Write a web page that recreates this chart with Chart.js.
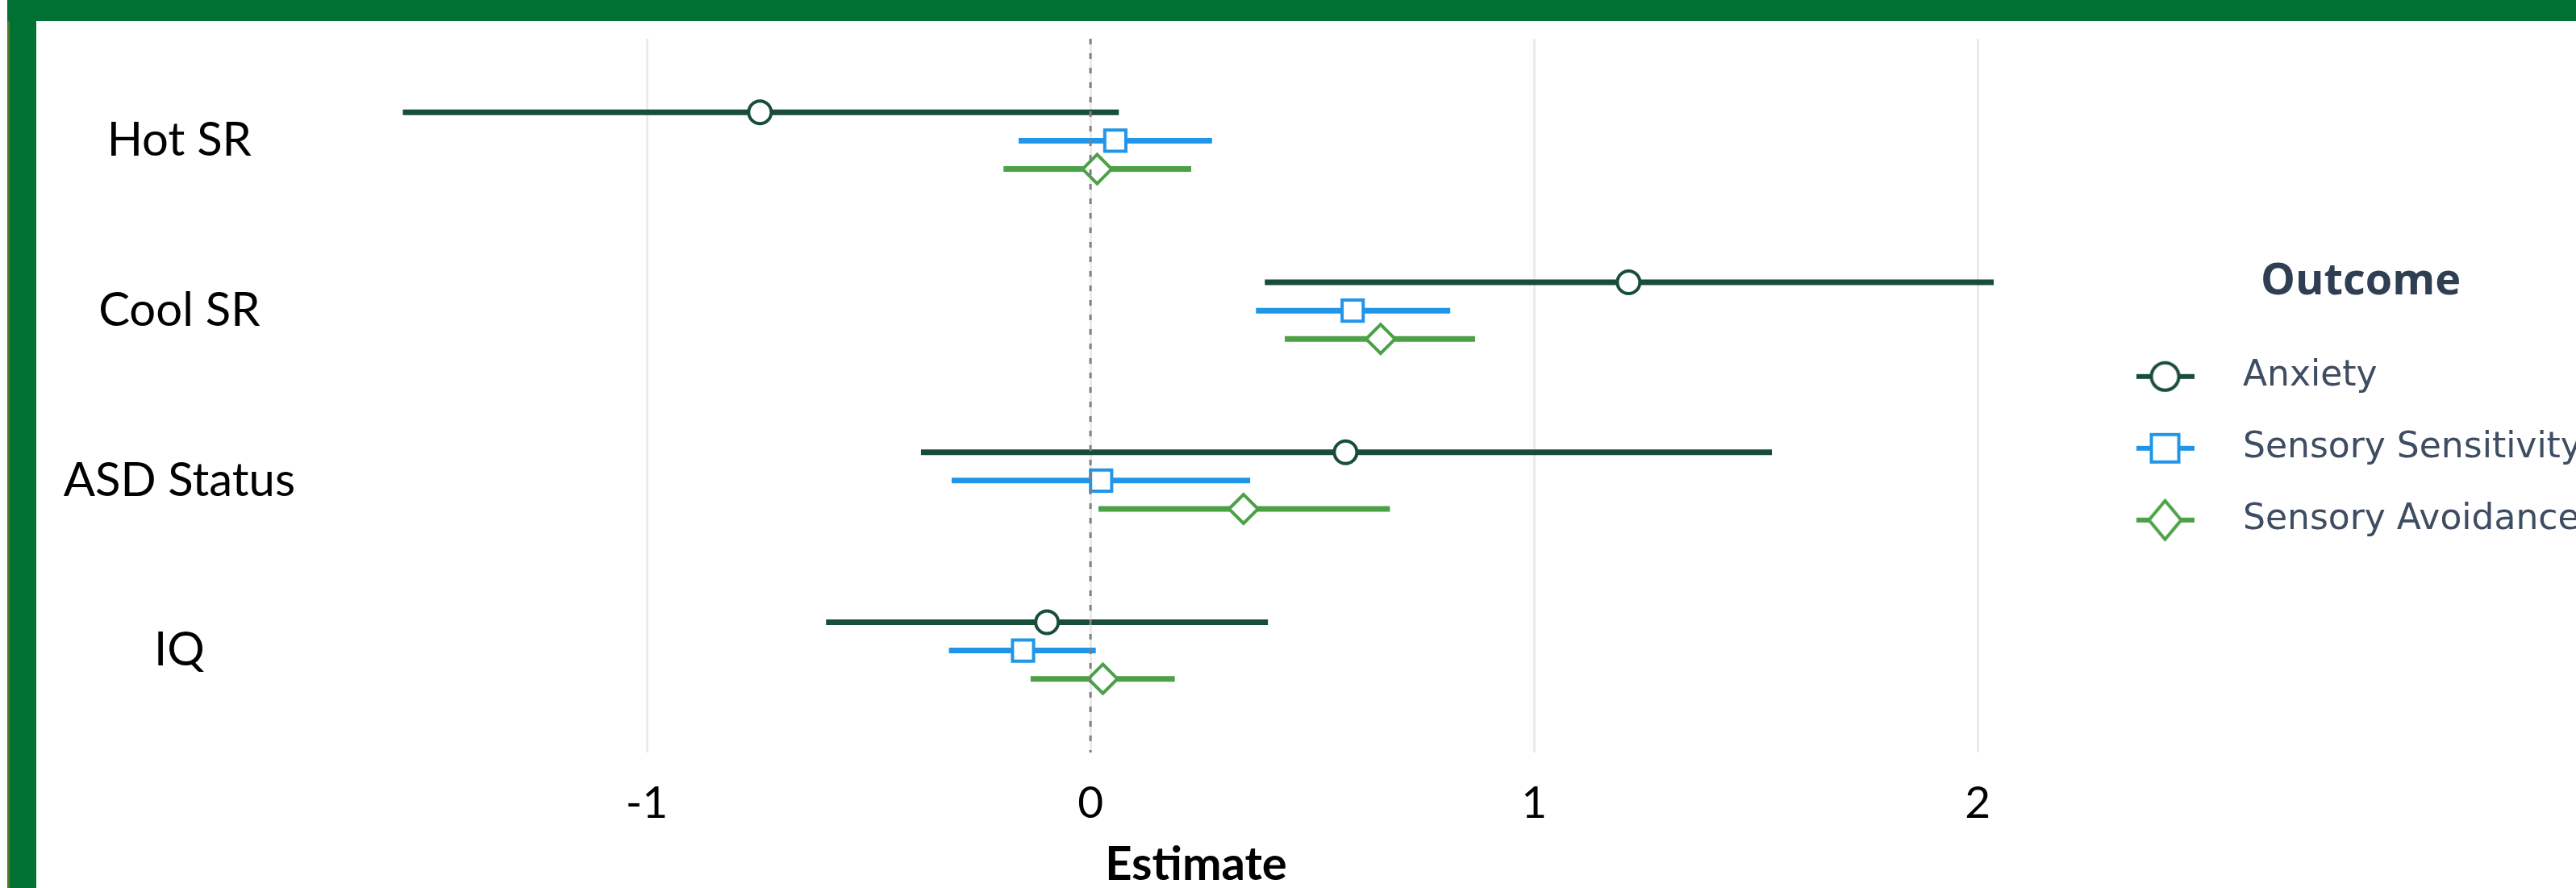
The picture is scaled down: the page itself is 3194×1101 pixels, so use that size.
<!DOCTYPE html>
<html lang="en">
<head>
<meta charset="UTF-8">
<title>Estimates by outcome</title>
<script src="https://cdn.jsdelivr.net/npm/chart.js@4.4.1/dist/chart.umd.min.js"></script>
<style>
    html, body {
        margin: 0;
        padding: 0;
        background: #ffffff;
        width: 3194px;
        height: 1101px;
        overflow: hidden;
    }
    .edge { position: absolute; left: 9px; top: 0; width: 3px; height: 1101px; background: #4f7a2c; }
    .frameLeft { position: absolute; left: 12px; top: 0; width: 33px; height: 1101px; background: #007033; }
    .frameTop { position: absolute; left: 9px; top: 0; right: 0; height: 26px; background: #007033; }
    #chart { position: absolute; left: 45px; top: 26px; }
</style>
</head>
<body>
<div class="edge"></div>
<div class="frameLeft"></div>
<div class="frameTop"></div>
<canvas id="chart" width="3160" height="1075"></canvas>

<script>
    const categories = ['Hot SR', 'Cool SR', 'ASD Status', 'IQ'];
    const outcomes = ['Anxiety', 'Sensory Sensitivity', 'Sensory Avoidance'];

    // estimate and interval ends, one value per category
    const anxietyEst = [-0.745, 1.213, 0.575, -0.098];
    const anxietyLo  = [-1.55, 0.393, -0.382, -0.596];
    const anxietyHi  = [0.064, 2.036, 1.536, 0.400];

    const sensitivityEst = [0.056, 0.591, 0.024, -0.152];
    const sensitivityLo  = [-0.162, 0.373, -0.313, -0.319];
    const sensitivityHi  = [0.274, 0.811, 0.360, 0.012];

    const avoidanceEst = [0.015, 0.654, 0.345, 0.028];
    const avoidanceLo  = [-0.196, 0.438, 0.018, -0.135];
    const avoidanceHi  = [0.227, 0.867, 0.675, 0.190];

    const xTicks = [-1, 0, 1, 2];

    const series = [
        { name: outcomes[0], est: anxietyEst, lo: anxietyLo, hi: anxietyHi,
          color: '#184d3a', style: 'circle', radius: 14, shift: -1 / 6 },
        { name: outcomes[1], est: sensitivityEst, lo: sensitivityLo, hi: sensitivityHi,
          color: '#2196e8', style: 'rect', radius: 18.5, shift: 0 },
        { name: outcomes[2], est: avoidanceEst, lo: avoidanceLo, hi: avoidanceHi,
          color: '#4ca046', style: 'rectRot', radius: 18, shift: 1 / 6 }
    ];

    // lo -> estimate -> hi, then a null to break the line before the next category
    function intervalPoints(s) {
        const pts = [];
        categories.forEach((c, i) => {
            const y = i + s.shift;
            pts.push({ x: s.lo[i], y: y }, { x: s.est[i], y: y }, { x: s.hi[i], y: y }, { x: null, y: null });
        });
        return pts;
    }

    // small icon for the legend: a bit of line with the marker on it
    function legendIcon(s) {
        const c = document.createElement('canvas');
        c.width = 72;
        c.height = 56;
        const g = c.getContext('2d');
        const cx = 36, cy = 28;
        g.strokeStyle = s.color;
        g.lineWidth = 6;
        g.beginPath();
        g.moveTo(0, cy);
        g.lineTo(72, cy);
        g.stroke();
        g.fillStyle = '#ffffff';
        g.lineWidth = 4;
        g.beginPath();
        if (s.style === 'circle') {
            g.arc(cx, cy, 17, 0, Math.PI * 2);
        } else if (s.style === 'rect') {
            g.rect(cx - 17, cy - 17, 34, 34);
        } else {
            g.moveTo(cx, cy - 24);
            g.lineTo(cx + 20, cy);
            g.lineTo(cx, cy + 24);
            g.lineTo(cx - 20, cy);
            g.closePath();
        }
        g.fill();
        g.stroke();
        return c;
    }

    const datasets = series.map(s => ({
        label: s.name,
        data: intervalPoints(s),
        showLine: true,
        spanGaps: false,
        borderColor: s.color,
        borderWidth: 7,
        pointStyle: s.style,
        pointRadius: ctx => (ctx.dataIndex % 4 === 1 ? s.radius : 0),
        pointHoverRadius: ctx => (ctx.dataIndex % 4 === 1 ? s.radius : 0),
        pointBackgroundColor: '#ffffff',
        pointBorderColor: s.color,
        pointBorderWidth: 4
    }));

    // dashed reference line at zero, drawn on top
    datasets.push({
        label: 'zero',
        data: [{ x: 0, y: -0.6 }, { x: 0, y: 3.6 }],
        showLine: true,
        borderColor: '#7f7f7f',
        borderWidth: 3,
        borderDash: [7, 11],
        pointRadius: 0,
        order: -1
    });

    const ctx = document.getElementById('chart').getContext('2d');

    new Chart(ctx, {
        type: 'scatter',
        data: { datasets: datasets },
        options: {
            responsive: false,
            animation: false,
            devicePixelRatio: 1,
            layout: { padding: { left: 30, top: 22, right: 0, bottom: 0 } },
            scales: {
                x: {
                    type: 'linear',
                    min: -1.729,
                    max: 2.205,
                    afterBuildTicks: axis => { axis.ticks = xTicks.map(v => ({ value: v })); },
                    afterFit: axis => {
                        axis.height = 168;
                        axis.paddingLeft = 0;
                        axis.paddingRight = 0;
                    },
                    grid: { color: '#ebebeb', lineWidth: 3, drawTicks: false },
                    border: { display: false },
                    ticks: {
                        padding: 30,
                        color: '#000000',
                        font: { family: 'Lato', size: 55 },
                        callback: v => String(v)
                    },
                    title: {
                        display: true,
                        text: 'Estimate',
                        color: '#000000',
                        font: { family: 'Lato', size: 58, weight: 'bold', lineHeight: 1 },
                        padding: { top: 0, bottom: 0 }
                    }
                },
                y: {
                    type: 'linear',
                    reverse: true,
                    min: -0.6,
                    max: 3.6,
                    afterBuildTicks: axis => { axis.ticks = categories.map((c, i) => ({ value: i })); },
                    afterFit: axis => {
                        axis.width = 326;
                        axis.paddingTop = 0;
                        axis.paddingBottom = 0;
                    },
                    grid: { display: false, drawTicks: false },
                    border: { display: false },
                    ticks: {
                        padding: 35,
                        crossAlign: 'center',
                        color: '#000000',
                        font: { family: 'Lato', size: 58 },
                        callback: v => categories[v]
                    }
                }
            },
            plugins: {
                tooltip: { enabled: false },
                legend: {
                    position: 'right',
                    align: 'start',
                    maxWidth: 640,
                    title: {
                        display: true,
                        text: '      Outcome',
                        color: '#2f3e52',
                        font: { family: 'Open Sans', size: 54, weight: 'bold' },
                        padding: { top: 275, bottom: 12 }
                    },
                    labels: {
                        usePointStyle: true,
                        pointStyleWidth: 149,
                        padding: 45,
                        textAlign: 'left',
                        color: '#3e4d61',
                        font: { family: 'DejaVu Sans', size: 44 },
                        generateLabels: () => series.map((s, i) => ({
                            text: s.name,
                            pointStyle: legendIcon(s),
                            datasetIndex: i,
                            hidden: false,
                            lineWidth: 0,
                            fontColor: '#3e4d61'
                        }))
                    }
                }
            }
        }
    });
</script>
</body>
</html>
